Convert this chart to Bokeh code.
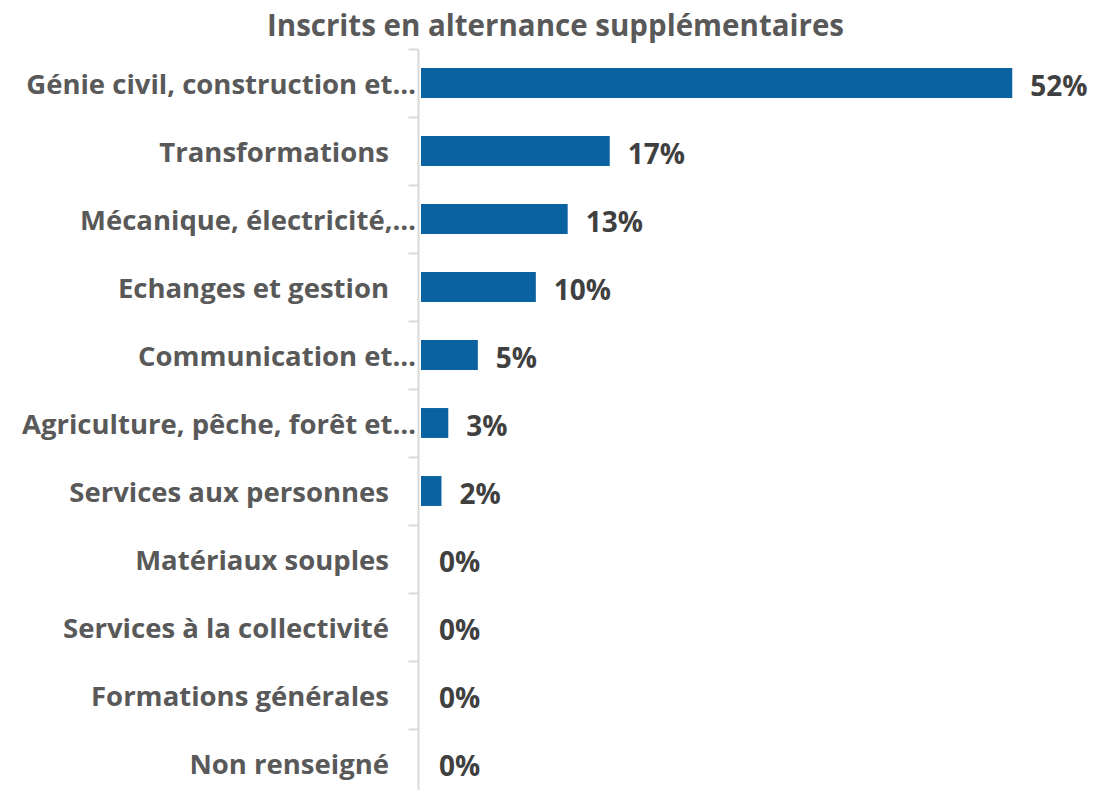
from bokeh.plotting import figure
from bokeh.models import ColumnDataSource, LabelSet, Label, Range1d, FixedTicker
from bokeh.core.properties import value
from bokeh.embed import file_html
from bokeh.resources import INLINE

title_text = "Inscrits en alternance supplémentaires"
categories = [
    "Génie civil, construction et…",
    "Transformations",
    "Mécanique, électricité,…",
    "Echanges et gestion",
    "Communication et…",
    "Agriculture, pêche, forêt et…",
    "Services aux personnes",
    "Matériaux souples",
    "Services à la collectivité",
    "Formations générales",
    "Non renseigné",
]
values = [52.0, 16.6, 12.9, 10.1, 5.0, 2.4, 1.8, 0.0, 0.0, 0.0, 0.0]
value_labels = ["52%", "17%", "13%", "10%", "5%", "3%", "2%", "0%", "0%", "0%", "0%"]

n = len(categories)
pos = list(range(n))
cat_off = [-5 if c.endswith("…") else -32 for c in categories]

source = ColumnDataSource(dict(cat=categories, pos=pos, val=values,
                               lab=value_labels, cat_off=cat_off,
                               zero=[0.0] * n))

FONT = "Open Sans"
W, H = 1092, 790
PX = 11.37          # pixels per percent
ZERO_X = 420.5      # page x of the value 0
BAND = 68.0         # pixels per category
TOP = 48.5          # page y of the first category boundary

y_top = -0.5 - TOP / BAND
y_bottom = -0.5 + (H - TOP) / BAND

p = figure(width=W, height=H, output_backend="svg", toolbar_location=None,
           title=None,
           x_range=Range1d(-ZERO_X / PX, (W - ZERO_X) / PX),
           y_range=Range1d(y_bottom, y_top),
           min_border_left=0, min_border_right=0, min_border_bottom=0,
           min_border_top=0)

p.hbar(y="pos", left=0, right="val", height=0.44, source=source,
       fill_color="#0B62A0", line_color=None)

p.xaxis.visible = False
p.xgrid.visible = False
p.ygrid.visible = False
p.outline_line_color = None

ya = p.yaxis[0]
ya.fixed_location = -0.2
ya.bounds = (-0.5, y_bottom)
ya.ticker = FixedTicker(ticks=[], minor_ticks=[i - 0.5 for i in range(n + 1)])
ya.axis_line_color = "#D9D9D9"
ya.axis_line_width = 2
ya.minor_tick_line_color = "#D9D9D9"
ya.minor_tick_line_width = 2
ya.minor_tick_out = 10
ya.minor_tick_in = 0
ya.major_tick_out = 0
ya.major_tick_in = 0
ya.major_label_standoff = 0
ya.major_tick_line_color = None
ya.major_label_text_font_size = "0px"

title = Label(x=(555 - ZERO_X) / PX, y=-0.5 - (TOP - 24) / BAND, text=title_text,
              text_align="center", text_baseline="middle",
              text_font=FONT, text_font_style="bold", text_font_size="29.5px",
              text_color="#595959")
p.add_layout(title)

cat_labels = LabelSet(x="zero", y="pos", text="cat", x_offset="cat_off", source=source,
                      text_align="right", text_baseline="middle",
                      text_font=value(FONT), text_font_style="bold", text_font_size="27.5px",
                      text_color="#595959")
val_labels = LabelSet(x="val", y="pos", text="lab", x_offset=18, y_offset=-2, source=source,
                      text_align="left", text_baseline="middle",
                      text_font=value(FONT), text_font_style="bold", text_font_size="28px",
                      text_color="#404040")
p.add_layout(cat_labels)
p.add_layout(val_labels)

open("out.html", "w").write(file_html(p, INLINE))
